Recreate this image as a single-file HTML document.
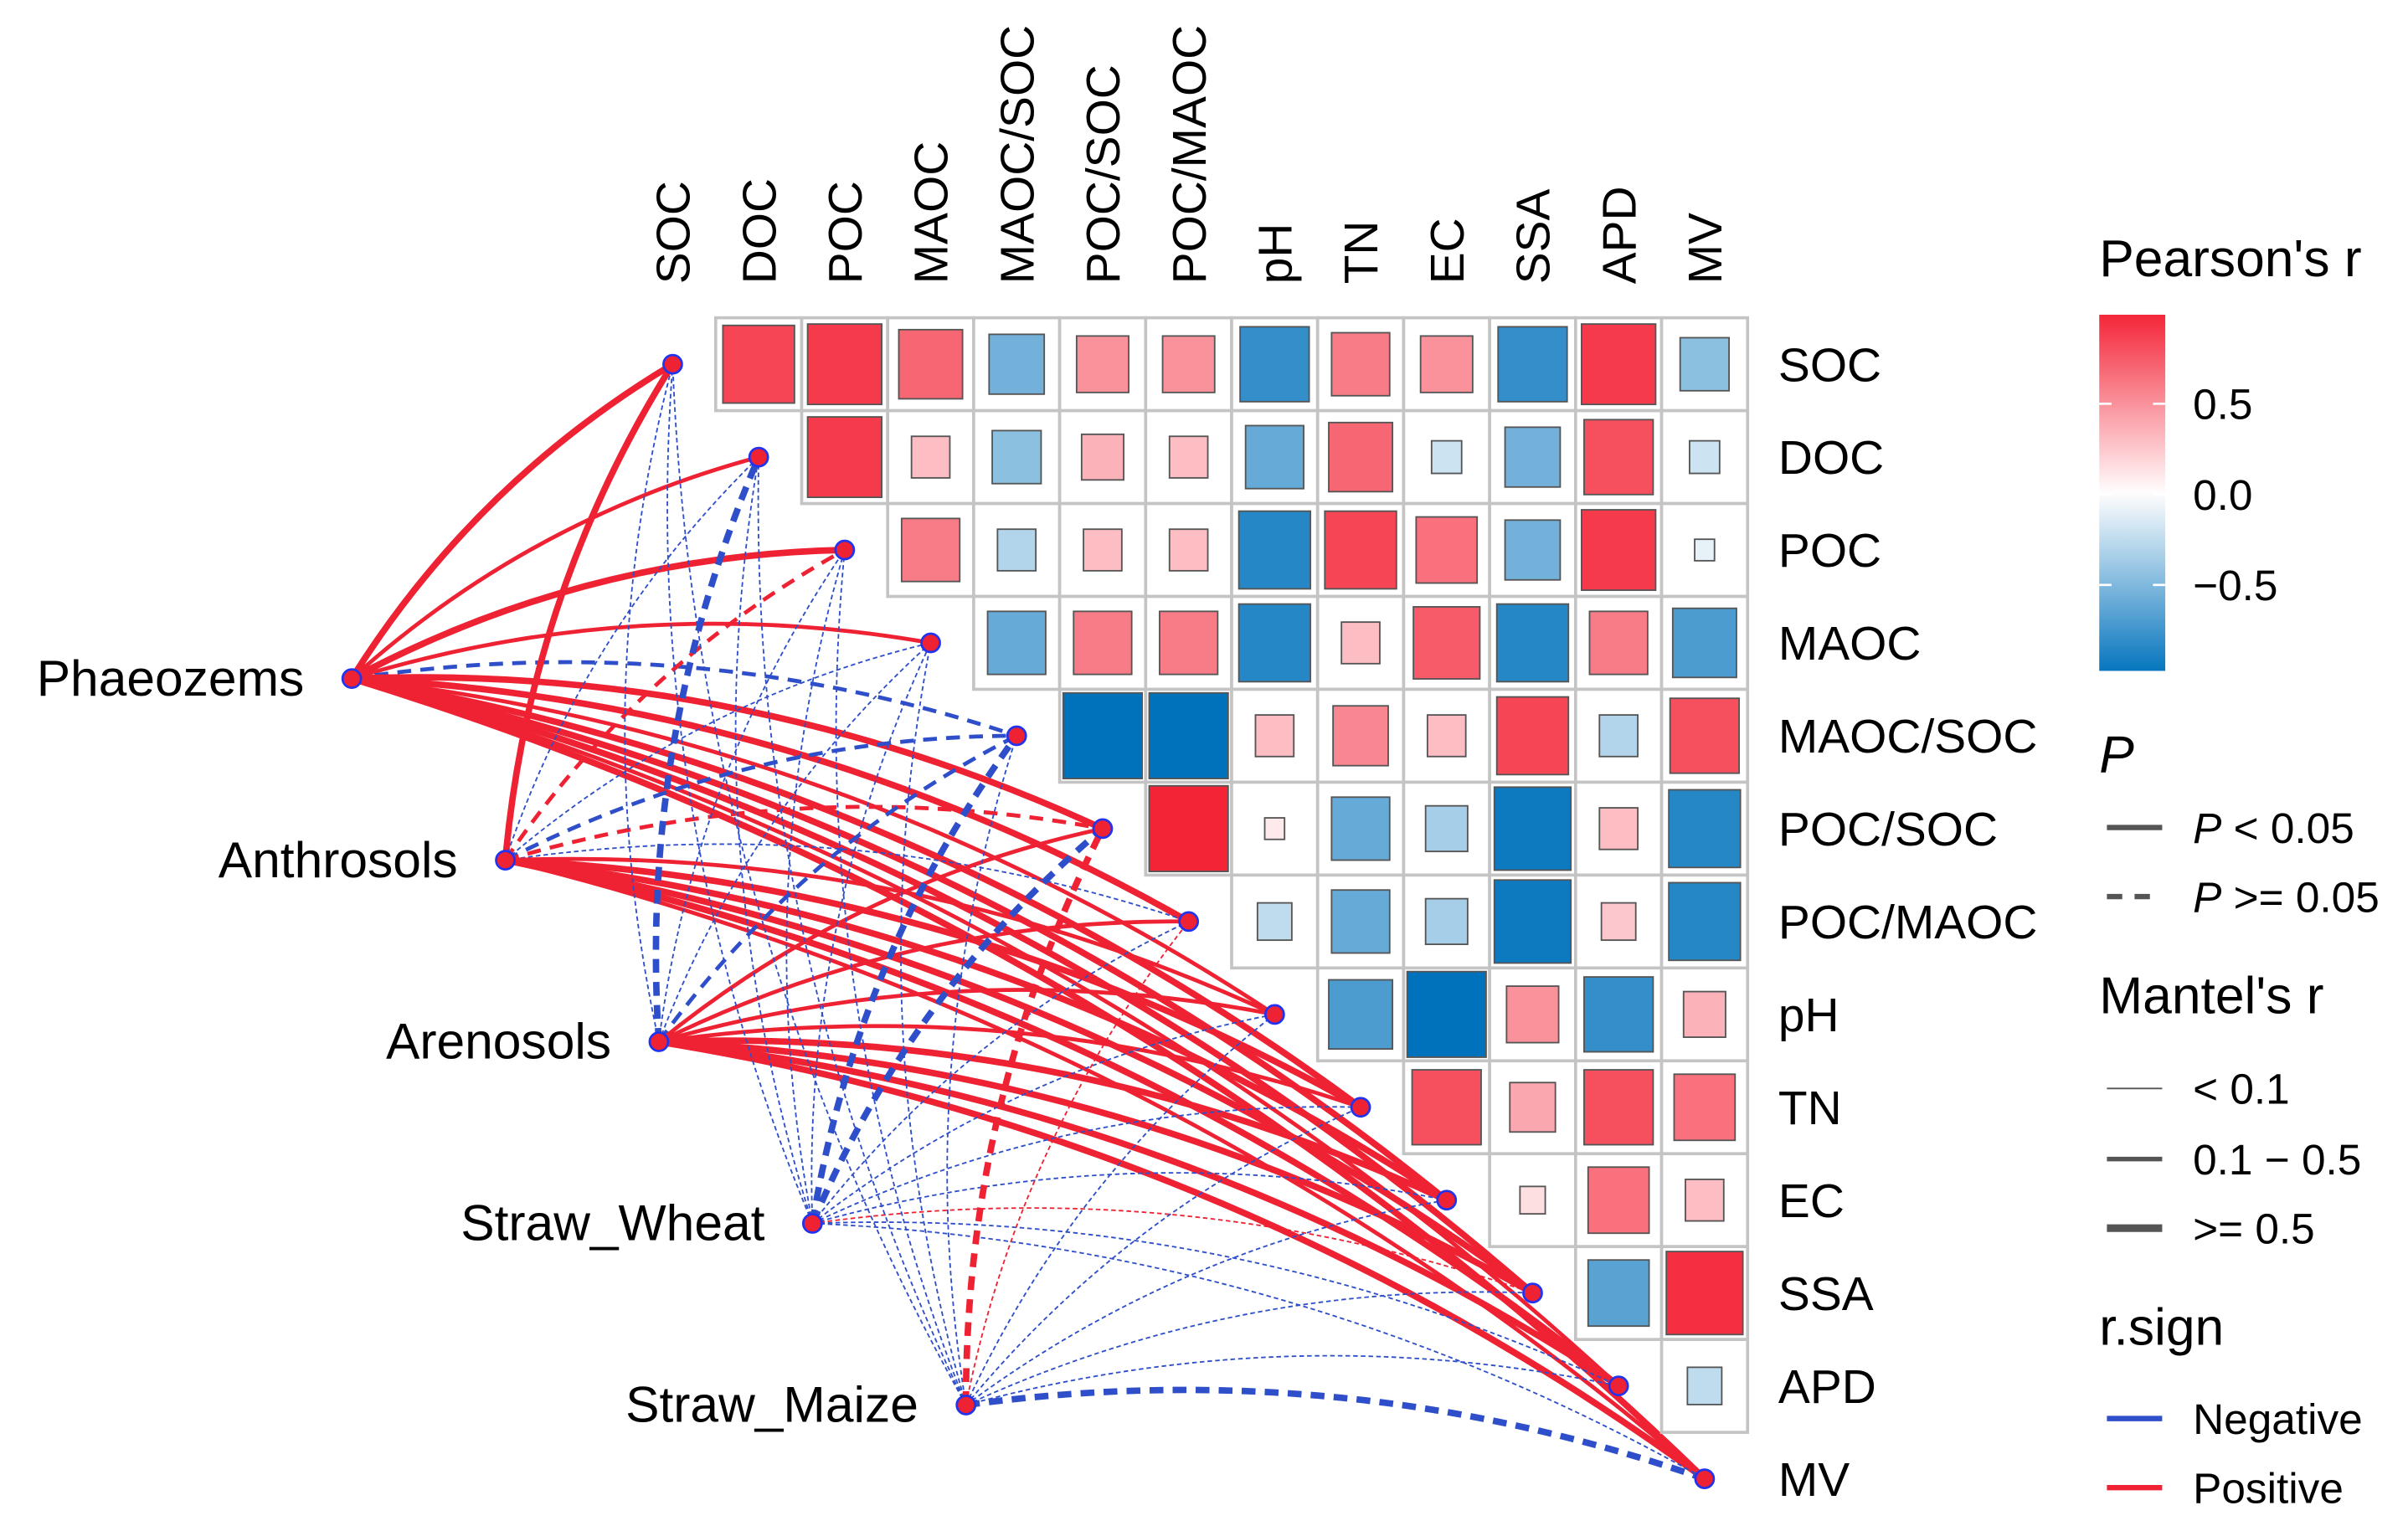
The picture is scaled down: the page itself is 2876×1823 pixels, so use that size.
<!DOCTYPE html>
<html><head><meta charset="utf-8"><style>
html,body{margin:0;padding:0;background:#fff;}
svg{display:block;font-family:"Liberation Sans",Arial,sans-serif;}
</style></head><body>
<svg id="chart" xmlns="http://www.w3.org/2000/svg" width="2876" height="1823" viewBox="0 0 1568 994">
<g id="links"></g>
<g id="heat"></g>
<g id="nodes"></g>
<g id="legend"></g>
</svg>
<script>
const vars = ["SOC","DOC","POC","MAOC","MAOC/SOC","POC/SOC","POC/MAOC","pH","TN","EC","SSA","APD","MV"];
const corrRows = [
 [0.85,0.9,0.7,-0.55,0.5,0.5,-0.8,0.6,0.5,-0.8,0.9,-0.45],
 [0.9,0.3,-0.45,0.35,0.3,-0.6,0.7,-0.2,-0.55,0.8,-0.2],
 [0.6,-0.3,0.3,0.3,-0.85,0.85,0.65,-0.55,0.9,-0.1],
 [-0.6,0.6,0.6,-0.85,0.3,0.75,-0.85,0.6,-0.7],
 [-1,-1,0.3,0.55,0.3,0.85,-0.3,0.8],
 [1.0,0.1,-0.6,-0.35,-0.95,0.3,-0.85],
 [-0.25,-0.6,-0.35,-0.95,0.25,-0.85],
 [-0.7,-1,0.5,-0.8,0.35],
 [0.8,0.4,0.8,0.65],
 [0.15,0.65,0.3],
 [-0.65,0.95],
 [-0.25]
];
const sources = ["Phaeozems","Anthrosols","Arenosols","Straw_Wheat","Straw_Maize"];
const mantelR = [
 [2,1,2,1,1,2,2,1,2,2,2,1,2],
 [2,0,1,0,1,1,0,1,2,2,2,2,1],
 [0,2,0,0,1,1,1,1,1,2,2,2,2],
 [0,0,0,0,2,2,0,0,0,0,0,0,0],
 [0,0,0,0,0,2,0,0,0,0,0,0,2]
];
const mantelP = [
 [1,1,1,1,0,1,1,1,1,1,1,1,1],
 [1,0,0,0,0,0,0,1,1,1,1,1,1],
 [0,0,0,0,0,1,1,1,1,1,1,1,1],
 [0,0,0,0,0,0,0,0,0,0,0,0,0],
 [0,0,0,0,0,0,0,0,0,0,0,0,0]
];
const mantelSign = [
 [1,1,1,1,-1,1,1,1,1,1,1,1,1],
 [1,-1,1,-1,-1,1,-1,1,1,1,1,1,1],
 [-1,-1,-1,-1,-1,1,1,1,1,1,1,1,1],
 [-1,-1,-1,-1,-1,-1,-1,-1,-1,-1,1,-1,-1],
 [-1,-1,-1,-1,-1,1,1,-1,-1,-1,-1,-1,-1]
];
const legendTicks = [0.5,0.0,-0.5];
const NS="http://www.w3.org/2000/svg";
function mk(t,a,p){const e=document.createElementNS(NS,t);for(const k in a)e.setAttribute(k,a[k]);p.appendChild(e);return e;}
const cw=56, ch=60.5, gx0=410, gy0=207;
const xc=i=>gx0+cw*i+cw/2, yc=i=>gy0+ch*i+ch/2;
function lerp(a,b,t){return a.map((v,i)=>Math.round(v+(b[i]-v)*t));}
function col(r){const w=[255,255,255],b=[0,114,188],rd=[244,36,55];const c=r>=0?lerp(w,rd,Math.min(1,r)):lerp(w,b,Math.min(1,-r));return `rgb(${c[0]},${c[1]},${c[2]})`;}
const heat=document.getElementById('heat');
for(let i=0;i<12;i++){for(let j=i+1;j<13;j++){
 const x=gx0+cw*j,y=gy0+ch*i;
 const c=mk('rect',{x:x,y:y,width:cw,height:ch,fill:'#fff',stroke:'#c4c4c4','stroke-width':2},heat);
 
 
}}
for(let i=0;i<12;i++){corrRows[i].forEach((r,k)=>{const j=i+1+k;
 const s=Math.pow(Math.abs(r),0.6)*0.97; const w=(cw-3)*s,h=(ch-3)*s;
 const q=mk('rect',{x:xc(j)-w/2,y:yc(i)-h/2,width:w,height:h,fill:col(r),stroke:'#555','stroke-width':1},heat);
 
 
});}
vars.forEach((v,i)=>{
 const t=mk('text',{x:0,y:0,transform:`translate(${xc(i)+11},185) rotate(-90)`,'font-size':31},heat);t.textContent=v;
 
 
 const t2=mk('text',{x:1158,y:yc(i)+11,'font-size':31},heat);t2.textContent=v;
 
 
});
const links=document.getElementById('links'), nodes=document.getElementById('nodes');
const sx=i=>229+100*i, sy=i=>442+118.3*i;
const widths=[1,2.6,4.2];
sources.forEach((s,si)=>{vars.forEach((v,vi)=>{
 const x1=sx(si),y1=sy(si),x2=xc(vi),y2=yc(vi);
 const dx=x2-x1,dy=y2-y1,c=0.12;
 const cx=(x1+x2)/2+c*dy, cy=(y1+y2)/2-c*dx;
 const p=mk('path',{d:`M${x1},${y1} Q${cx},${cy} ${x2},${y2}`,fill:'none',stroke:mantelSign[si][vi]>0?'#EE2233':'#2E4FC9','stroke-width':widths[mantelR[si][vi]],'stroke-dasharray':mantelP[si][vi]?'none':(mantelR[si][vi]>0?'9,6':'3,2')},links);
 
 
});});
vars.forEach((v,i)=>{const d=mk('circle',{cx:xc(i),cy:yc(i),r:6,fill:'#EE2233',stroke:'#2233ee','stroke-width':1.5},nodes);
 
 });
sources.forEach((s,i)=>{const d=mk('circle',{cx:sx(i),cy:sy(i),r:6,fill:'#EE2233',stroke:'#2233ee','stroke-width':1.5},nodes);
 
 
 const t=mk('text',{x:sx(i)-31,y:sy(i)+11,'font-size':33,'text-anchor':'end'},nodes);t.textContent=s;
 
 });
const lg=document.getElementById('legend');
function txt(x,y,s,fs,extra){const t=mk('text',Object.assign({x:x,y:y,'font-size':fs},extra||{}),lg);t.textContent=s;return t;}
let t0=txt(1367,180,"Pearson's r",34);


const defs=mk('defs',{},lg);const gr=mk('linearGradient',{id:'cb',x1:0,y1:0,x2:0,y2:1},defs);
const cbTop=205,cbBot=437,cbZero=322,cbPer=118;
for(let k=0;k<=10;k++){const yy=cbTop+(cbBot-cbTop)*k/10;const r=(cbZero-yy)/cbPer;mk('stop',{offset:k/10,'stop-color':col(r)},gr);}
const cb=mk('rect',{x:1367,y:cbTop,width:43,height:cbBot-cbTop,fill:'url(#cb)'},lg);


legendTicks.forEach(v=>{const yy=cbZero-v*cbPer;
 mk('line',{x1:1367,x2:1375,y1:yy,y2:yy,stroke:'#fff','stroke-width':1.5},lg);
 mk('line',{x1:1402,x2:1410,y1:yy,y2:yy,stroke:'#fff','stroke-width':1.5},lg);
 const tt=txt(1428,yy+10,(v<0?'\u2212':'')+Math.abs(v).toFixed(1),28);
 
 });
txt(1367,503,"P",34,{'font-style':'italic'});
mk('line',{x1:1372,x2:1408,y1:539,y2:539,stroke:'#555','stroke-width':3.5},lg);
let a=txt(1428,549,"",28);a.innerHTML='<tspan font-style="italic">P</tspan> &lt; 0.05';
mk('line',{x1:1372,x2:1408,y1:584,y2:584,stroke:'#555','stroke-width':3.5,'stroke-dasharray':'10,8'},lg);
a=txt(1428,594,"",28);a.innerHTML='<tspan font-style="italic">P</tspan> &gt;= 0.05';
txt(1367,660,"Mantel's r",34);
mk('line',{x1:1372,x2:1408,y1:709,y2:709,stroke:'#555','stroke-width':1},lg);txt(1428,719,"< 0.1",28);
mk('line',{x1:1372,x2:1408,y1:755,y2:755,stroke:'#555','stroke-width':3},lg);txt(1428,765,"0.1 \u2212 0.5",28);
mk('line',{x1:1372,x2:1408,y1:800,y2:800,stroke:'#555','stroke-width':5},lg);txt(1428,810,">= 0.5",28);
txt(1367,876,"r.sign",34);
mk('line',{x1:1372,x2:1408,y1:924,y2:924,stroke:'#2E4FC9','stroke-width':3.5},lg);txt(1428,934,"Negative",28);
mk('line',{x1:1372,x2:1408,y1:969,y2:969,stroke:'#EE2233','stroke-width':3.5},lg);txt(1428,979,"Positive",28);
</script>
</body></html>
